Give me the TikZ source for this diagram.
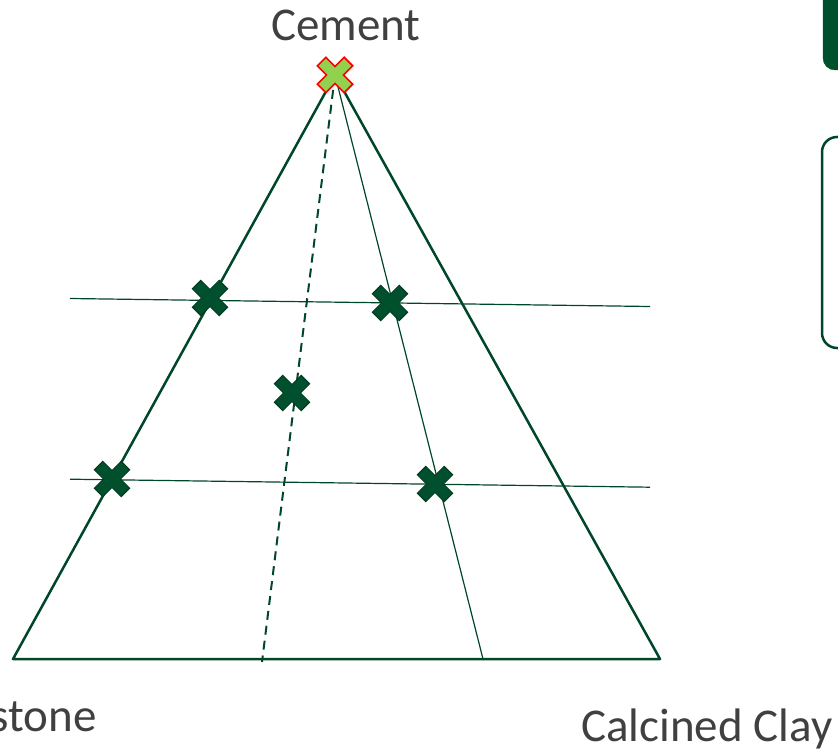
\documentclass[tikz,border=0pt]{standalone}
\usepackage{fontspec}
\setmainfont{Carlito}
\definecolor{forest}{RGB}{0,80,45}
\definecolor{forestdark}{RGB}{0,58,32}
\definecolor{edgegreen}{RGB}{0,70,40}
\definecolor{limegreen}{RGB}{146,208,80}
\tikzset{
  label text/.style={font=\fontsize{47}{56}\selectfont, text=black!75, inner sep=0pt, anchor=base},
  side/.style={draw=edgegreen, line width=2.5pt, line join=round},
  guide/.style={draw=edgegreen, line width=1.2pt},
  dashguide/.style={draw=edgegreen, line width=2pt, dash pattern=on 9pt off 6pt},
  xmark/.pic={
    \path[pic actions, rotate=45]
      (-6,19) -- (6,19) -- (6,6) -- (19,6) -- (19,-6) -- (6,-6) -- (6,-19)
      -- (-6,-19) -- (-6,-6) -- (-19,-6) -- (-19,6) -- (-6,6) -- cycle;
  },
  darkx/.style={fill=forest, draw=forestdark, line width=1pt, line join=miter},
  apexx/.style={fill=limegreen, draw=red, line width=1.6pt, line join=miter},
}
\begin{document}
\begin{tikzpicture}[x=1pt, y=-1pt]
\useasboundingbox (0,0) rectangle (838,749);
\clip (0,0) rectangle (838,749);

% corners of the ternary triangle
\coordinate (top) at (335,75);
\coordinate (bl) at (13,659);
\coordinate (br) at (660,659);
% feet of the two lines from the apex
\coordinate (dfoot) at (262,662);
\coordinate (sfoot) at (483,659);
% ends of the two level lines
\coordinate (h1a) at (70,298.5);
\coordinate (h1b) at (650,306.5);
\coordinate (h2a) at (70,479.2);
\coordinate (h2b) at (650,487.2);

% panels on the right
\draw[fill=forest, draw=forest, rounded corners=12pt] (823,-20) rectangle (870,70);
\draw[draw=edgegreen, line width=2.5pt, rounded corners=15pt] (822,137) rectangle (880,348);

% guide lines
\draw[guide] (h1a) -- (h1b);
\draw[guide] (h2a) -- (h2b);
\draw[guide] (top) -- (sfoot);
\draw[dashguide] (top) -- (dfoot);

% triangle
\draw[side] (top) -- (bl) -- (br) -- cycle;

% data points
\coordinate (p1) at (210,298);
\coordinate (p2) at (390,303);
\coordinate (p3) at (292,393);
\coordinate (p4) at (112,479);
\coordinate (p5) at (435,484);
\foreach \p in {p1,p2,p3,p4,p5}
  \pic[darkx] at (\p) {xmark};
\pic[apexx] at (top) {xmark};

% vertex labels
\node[label text] (cem) at (346,41) {Cement};
\node[label text, anchor=base east] (lime) at (97,731) {Limestone};
\node[label text, anchor=base west] (clay) at (581,741) {Calcined Clay};
\end{tikzpicture}
\end{document}
